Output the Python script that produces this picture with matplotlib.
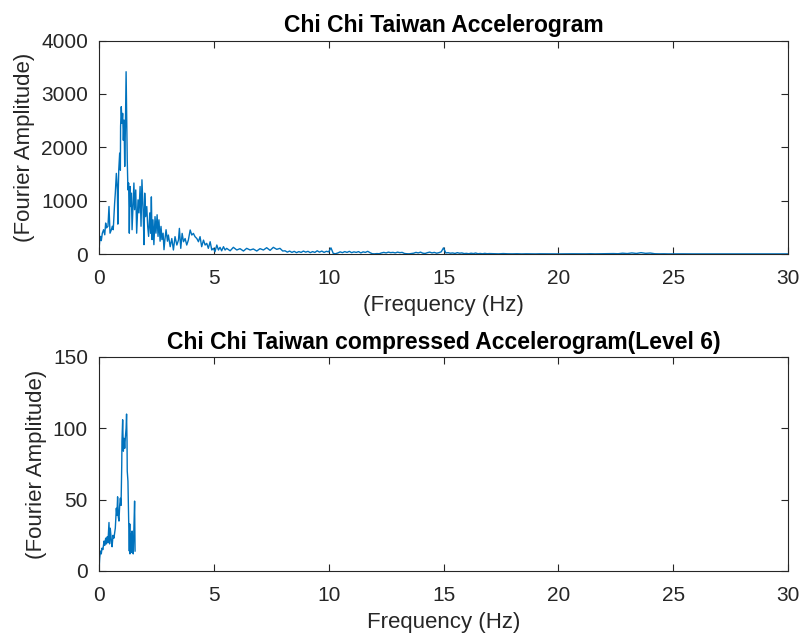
import numpy as np
import matplotlib
matplotlib.use('Agg')
import matplotlib.pyplot as plt

# ---- top spectrum, 0-8 Hz (freq, amplitude) ----
top_freq_lo = [0.00, 0.03, 0.07, 0.10, 0.145, 0.20, 0.25, 0.29, 0.33, 0.39,
               0.435, 0.48, 0.54, 0.58, 0.62, 0.68, 0.71, 0.755, 0.80, 0.82,
               0.83, 0.86, 0.90, 0.93, 0.94, 0.97, 1.00, 1.03, 1.06, 1.09,
               1.12, 1.15, 1.18, 1.20, 1.23, 1.26, 1.29, 1.32, 1.35, 1.38,
               1.41, 1.44, 1.48, 1.52, 1.55, 1.60, 1.64, 1.70, 1.74, 1.79,
               1.83, 1.87, 1.92, 1.96, 1.99, 2.03, 2.08, 2.12, 2.16, 2.21,
               2.25, 2.28, 2.31, 2.35, 2.39, 2.44, 2.48, 2.53, 2.57, 2.61,
               2.66, 2.70, 2.74, 2.79, 2.83, 2.87, 2.92, 2.98, 3.02, 3.10,
               3.17, 3.24, 3.31, 3.39, 3.46, 3.50, 3.56, 3.62, 3.68, 3.75,
               3.82, 3.89, 3.97, 4.04, 4.11, 4.18, 4.26, 4.33, 4.40, 4.47,
               4.55, 4.62, 4.69, 4.76, 4.84, 4.91, 4.98, 5.05, 5.13, 5.20,
               5.27, 5.34, 5.42, 5.49, 5.56, 5.71, 5.85, 6.00, 6.14, 6.29,
               6.43, 6.58, 6.72, 6.87, 7.01, 7.16, 7.30, 7.45, 7.59, 7.74,
               7.88, 8.00]
top_amp_lo = [80, 240, 330, 250, 390, 455, 360, 580, 490, 520,
              890, 390, 455, 520, 455, 950, 1140, 1510, 1200, 560,
              1015, 1575, 1890, 1570, 2390, 2760, 2450, 2635, 2130, 2510,
              1640, 2380, 3415, 2700, 1760, 1200, 1330, 390, 1265, 890,
              1140, 455, 890, 1330, 830, 1200, 390, 1015, 770, 1265,
              520, 1390, 830, 175, 1140, 700, 890, 520, 330, 770,
              390, 1070, 270, 640, 175, 700, 390, 735, 330, 640,
              240, 517, 270, 390, 80, 270, 455, 240, 355, 137,
              290, 75, 325, 168, 260, 480, 106, 386, 230, 290,
              168, 260, 450, 355, 386, 325, 290, 230, 325, 137,
              260, 168, 200, 106, 230, 75, 106, 44, 168, 75,
              125, 60, 137, 75, 106, 60, 125, 75, 100, 56,
              106, 75, 94, 56, 100, 75, 118, 68, 125, 87,
              106, 56]

# ---- top spectrum, 8.1-17.0 Hz in 0.1 Hz steps ----
top_mid_start, top_mid_step = 8.1, 0.1
top_amp_mid = [60, 35, 55, 30, 50, 25, 45, 30, 55, 35,
               50, 25, 45, 30, 60, 35, 55, 30, 50, 40,
               115, 10, 5, 20, 40, 25, 45, 30, 50, 25,
               40, 30, 45, 20, 40, 30, 50, 25, 5, 3,
               8, 5, 20, 30, 20, 35, 25, 30, 20, 35,
               25, 30, 10, 5, 3, 8, 15, 30, 20, 35,
               15, 10, 25, 35, 20, 30, 15, 25, 40, 115,
               20, 25, 15, 20, 10, 25, 15, 20, 8, 12,
               5, 15, 8, 18, 5, 10, 4, 12, 5, 8]

# ---- top spectrum, 17.2-30 Hz in 0.2 Hz steps ----
top_hi_start, top_hi_step = 17.2, 0.2
top_amp_hi = [6, 3, 8, 4, 3, 5, 2, 4, 3, 2,
              4, 3, 2, 3, 2, 3, 2, 4, 3, 2,
              3, 5, 3, 4, 6, 4, 8, 5, 15, 8,
              20, 10, 25, 12, 18, 5, 3, 4, 2, 3,
              2, 3, 2, 2, 3, 2, 2, 3, 2, 2,
              3, 2, 2, 3, 2, 2, 2, 3, 2, 2,
              2, 2, 2, 2, 2]

# ---- compressed (level 6) spectrum ----
bot_freq = [0.00, 0.03, 0.06, 0.10, 0.13, 0.17, 0.22, 0.25, 0.29, 0.33,
            0.36, 0.39, 0.435, 0.46, 0.49, 0.54, 0.57, 0.61, 0.65, 0.71,
            0.755, 0.78, 0.81, 0.84, 0.87, 0.90, 0.93, 0.96, 0.99, 1.00,
            1.03, 1.06, 1.09, 1.12, 1.15, 1.18, 1.20, 1.22, 1.23, 1.26,
            1.29, 1.32, 1.34, 1.35, 1.38, 1.41, 1.44, 1.47, 1.49, 1.52,
            1.55, 1.57]
bot_amp = [0, 9, 14, 12, 16, 15, 21, 18, 23, 19,
           24, 20, 34, 19, 30, 21, 17, 25, 23, 30,
           44, 39, 52, 38, 35, 46, 51, 46, 74, 91,
           106, 84, 93, 86, 94, 100, 110, 91, 70, 63,
           37, 14, 33, 12, 26, 13, 28, 16, 12, 30,
           49, 14]

x_ticks = [0, 5, 10, 15, 20, 25, 30]

line_col = (0, 0.447, 0.741)
ax_col = (0.15, 0.15, 0.15)

top_freq = (top_freq_lo
            + [top_mid_start + i * top_mid_step for i in range(len(top_amp_mid))]
            + [top_hi_start + i * top_hi_step for i in range(len(top_amp_hi))])
top_amp = top_amp_lo + top_amp_mid + top_amp_hi

plt.rcParams['font.family'] = ['Liberation Sans', 'DejaVu Sans']

fig = plt.figure(figsize=(8.05, 6.41), dpi=100)
ax1 = fig.add_axes([99 / 805, 1 - 254 / 641, 689 / 805, 213.5 / 641])
ax2 = fig.add_axes([99 / 805, 1 - 571 / 641, 689 / 805, 214 / 641])


def style(ax):
    ax.set_xlim(0, 30)
    ax.set_xticks(x_ticks)
    for s in ax.spines.values():
        s.set_color(ax_col)
        s.set_linewidth(0.8)
    ax.tick_params(direction='in', top=True, right=True, length=5, width=0.8,
                   colors=ax_col, labelsize=15)
    ax.tick_params(axis='x', pad=11)
    ax.tick_params(axis='y', pad=8)


ax1.plot(top_freq, top_amp, color=line_col, lw=1.0)
style(ax1)
ax1.set_ylim(0, 4000)
ax1.set_yticks([0, 1000, 2000, 3000, 4000])
ax1.set_title('Chi Chi Taiwan Accelerogram', fontsize=16.5, fontweight='bold',
              color='black', pad=6)
ax1.set_xlabel('(Frequency (Hz)', fontsize=16, color=ax_col, labelpad=5)
ax1.set_ylabel('(Fourier Amplitude)', fontsize=16, color=ax_col, labelpad=4)

ax2.plot(bot_freq, bot_amp, color=line_col, lw=1.0)
style(ax2)
ax2.set_ylim(0, 150)
ax2.set_yticks([0, 50, 100, 150])
ax2.set_title('Chi Chi Taiwan compressed Accelerogram(Level 6)', fontsize=16.5,
              fontweight='bold', color='black', pad=6)
ax2.set_xlabel('Frequency (Hz)', fontsize=16, color=ax_col, labelpad=5)
ax2.set_ylabel('(Fourier Amplitude)', fontsize=16, color=ax_col, labelpad=4)

fig.savefig('out.png', dpi=100)
